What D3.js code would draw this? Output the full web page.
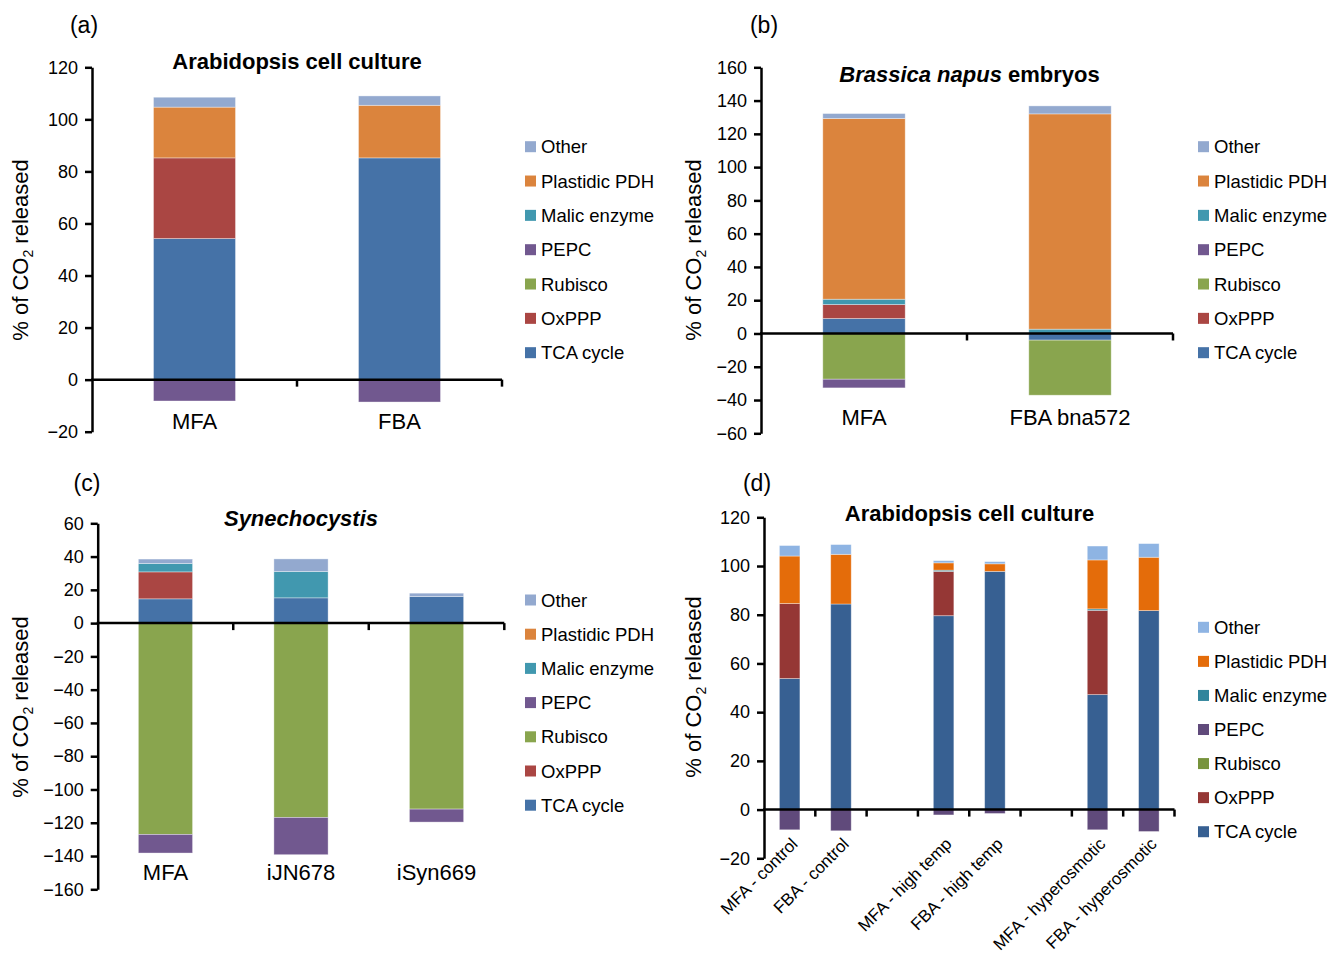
<!DOCTYPE html>
<html><head><meta charset="utf-8">
<script src="https://cdn.jsdelivr.net/npm/d3@7"></script>
<style>
body{margin:0;background:#fff}
text{font-family:"Liberation Sans",Arial,Helvetica,sans-serif;fill:#000}
</style>
</head><body>
<svg id="chart" width="1330" height="953"></svg>
<script>
// ---------- series (stack order, bottom to top) ----------
const seriesNames = ["TCA cycle","OxPPP","Rubisco","PEPC","Malic enzyme","Plastidic PDH","Other"];
const colorsABC = ["#4572A7","#AA4643","#89A54E","#71588F","#4198AF","#DB843D","#93A9CF"];
const colorsD   = ["#376092","#953735","#77933C","#604A7B","#31859C","#E46C0A","#8EB4E3"];

// ---------- panel (a) Arabidopsis cell culture ----------
const catsA = ["MFA","FBA"];
const aTCA = [54.2, 85.2];
const aOxPPP = [31.0, 0];
const aRubisco = [0, 0];
const aPEPC = [-8.2, -8.6];
const aMalic = [0, 0];
const aPDH = [19.5, 20.2];
const aOther = [3.8, 3.6];
const ticksA = [-20,0,20,40,60,80,100,120];

// ---------- panel (b) Brassica napus embryos ----------
const catsB = ["MFA","FBA bna572"];
const bTCA = [9.0, -4.0];
const bOxPPP = [8.4, 0];
const bRubisco = [-27.5, -33.1];
const bPEPC = [-5.2, 0];
const bMalic = [3.2, 2.6];
const bPDH = [108.6, 129.4];
const bOther = [3.0, 4.8];
const ticksB = [-60,-40,-20,0,20,40,60,80,100,120,140,160];

// ---------- panel (c) Synechocystis ----------
const catsC = ["MFA","iJN678","iSyn669"];
const cTCA = [14.6, 15.2, 16.0];
const cOxPPP = [16.2, 0, 0];
const cRubisco = [-127.0, -116.8, -111.8];
const cPEPC = [-11.2, -22.4, -7.8];
const cMalic = [5.0, 15.8, 0];
const cPDH = [0, 0, 0];
const cOther = [2.7, 7.6, 2.0];
const ticksC = [-160,-140,-120,-100,-80,-60,-40,-20,0,20,40,60];

// ---------- panel (d) Arabidopsis cell culture, conditions ----------
const catsD = ["MFA - control","FBA - control","","MFA - high temp","FBA - high temp","","MFA - hyperosmotic","FBA - hyperosmotic"];
const dTCA = [53.8, 84.4, 0, 79.6, 97.8, 0, 47.2, 81.7];
const dOxPPP = [30.8, 0, 0, 18.2, 0, 0, 34.6, 0];
const dRubisco = [0, 0, 0, 0, 0, 0, 0, 0];
const dPEPC = [-8.3, -8.7, 0, -2.2, -1.6, 0, -8.3, -9.0];
const dMalic = [0, 0, 0, 0.5, 0, 0, 0.6, 0];
const dPDH = [19.5, 20.4, 0, 3.0, 3.1, 0, 20.1, 21.9];
const dOther = [4.3, 4.0, 0, 0.9, 0.9, 0, 5.7, 5.6];
const ticksD = [-20,0,20,40,60,80,100,120];

const svg = d3.select("#chart");

function drawPanel(o){
  const g = svg.append("g");
  const n = o.cats.length;
  const rows = o.cats.map((c,i)=>{
    const r = {idx:i};
    seriesNames.forEach((s,k)=>{ r[s] = o.series[k][i]; });
    return r;
  });
  const x = d3.scaleBand().domain(d3.range(n)).range(o.xRange).paddingInner(0.6).paddingOuter(0.3);
  const y = d3.scaleLinear().domain(o.yDomain).range(o.yRange);
  const stacked = d3.stack().keys(seriesNames).offset(d3.stackOffsetDiverging)(rows);

  // bars
  g.selectAll("g.s").data(stacked).join("g").attr("class","s")
    .attr("fill",(d,k)=>o.colors[k])
    .selectAll("rect").data(d=>d.filter(v=>Math.abs(v[1]-v[0])>0)).join("rect")
    .attr("x",d=>x(d.data.idx))
    .attr("width",x.bandwidth())
    .attr("y",d=>y(Math.max(d[0],d[1])))
    .attr("height",d=>Math.abs(y(d[0])-y(d[1])))
    .attr("stroke","rgba(255,255,255,0.45)").attr("stroke-width",0.8);

  // y axis
  const ya = g.append("g").attr("transform",`translate(${o.xRange[0]},0)`)
    .call(d3.axisLeft(y).tickValues(o.yTicks).tickSize(7).tickSizeOuter(0).tickPadding(7).tickFormat(d3.format("d")));
  ya.select(".domain").attr("stroke","#000").attr("stroke-width",2.5);
  ya.selectAll(".tick line").attr("stroke","#000").attr("stroke-width",2.5);
  ya.selectAll(".tick text").attr("font-size",o.tickFont||18).attr("font-family",'"Liberation Sans",Arial,sans-serif');

  // x axis line at zero with boundary ticks
  const y0 = y(0);
  g.append("line").attr("x1",o.xRange[0]-1).attr("x2",o.xRange[1]).attr("y1",y0).attr("y2",y0)
    .attr("stroke","#000").attr("stroke-width",2.5);
  const step = x.step();
  d3.range(1,n+1).forEach(i=>{
    const xx = o.xRange[0] + step*i;
    g.append("line").attr("x1",xx).attr("x2",xx).attr("y1",y0).attr("y2",y0+7)
      .attr("stroke","#000").attr("stroke-width",2.5);
  });

  // category labels
  if(!o.rotated){
    g.selectAll("text.cat").data(o.cats).join("text").attr("class","cat")
      .attr("x",(d,i)=>x(i)+x.bandwidth()/2).attr("y",o.catY)
      .attr("text-anchor","middle").attr("font-size",22).text(d=>d);
  } else {
    g.selectAll("text.cat").data(o.cats).join("text").attr("class","cat")
      .attr("transform",(d,i)=>`translate(${x(i)+x.bandwidth()/2+o.rotDx},${o.catY}) rotate(-45)`)
      .attr("text-anchor","end").attr("font-size",17).text(d=>d);
  }

  // title
  const t = g.append("text").attr("x",o.titleX).attr("y",o.titleY).attr("text-anchor","middle")
    .attr("font-size",22).attr("font-weight","bold");
  o.title.forEach(p=>{ t.append("tspan").attr("font-style",p.italic?"italic":"normal").text(p.text); });

  // y title
  const yt = g.append("text").attr("transform",`translate(${o.ytX},${o.ytY}) rotate(-90)`)
    .attr("text-anchor","middle").attr("font-size",22);
  yt.append("tspan").text("% of CO");
  yt.append("tspan").attr("font-size",14).attr("dy",5).text("2");
  yt.append("tspan").attr("dy",-5).text(" released");

  // panel label
  g.append("text").attr("x",o.plX).attr("y",o.plY).attr("text-anchor","middle").attr("font-size",23).text(o.panel);

  // legend
  const order = d3.range(seriesNames.length).reverse();
  const lg = g.append("g");
  order.forEach((k,j)=>{
    const cy = o.legY + j*o.legStep;
    lg.append("rect").attr("x",o.legX).attr("y",cy-5.5).attr("width",11).attr("height",11).attr("fill",o.colors[k]);
    lg.append("text").attr("x",o.legX+16).attr("y",cy+6.5).attr("font-size",18.5).text(seriesNames[k]);
  });
}

drawPanel({cats:catsA, series:[aTCA,aOxPPP,aRubisco,aPEPC,aMalic,aPDH,aOther], colors:colorsABC,
  yDomain:[-20,120], yRange:[431.7,67.3], yTicks:ticksA, xRange:[92,502], catY:429,
  title:[{text:"Arabidopsis cell culture"}], titleX:297, titleY:69,
  ytX:28, ytY:250, plX:84, plY:33, panel:"(a)", legX:525, legY:146.7, legStep:34.33});

drawPanel({cats:catsB, series:[bTCA,bOxPPP,bRubisco,bPEPC,bMalic,bPDH,bOther], colors:colorsABC,
  yDomain:[-60,160], yRange:[433.3,67.3], yTicks:ticksB, xRange:[761,1173], catY:425,
  title:[{text:"Brassica napus",italic:true},{text:" embryos"}], titleX:969.5, titleY:82,
  ytX:701, ytY:250, plX:764, plY:33, panel:"(b)", legX:1198, legY:146.7, legStep:34.33});

drawPanel({cats:catsC, series:[cTCA,cOxPPP,cRubisco,cPEPC,cMalic,cPDH,cOther], colors:colorsABC,
  yDomain:[-160,60], yRange:[889.3,523.3], yTicks:ticksC, xRange:[97.7,504.3], catY:880,
  title:[{text:"Synechocystis",italic:true}], titleX:301, titleY:526,
  ytX:28, ytY:707, plX:87, plY:491, panel:"(c)", legX:525, legY:600, legStep:34.2});

drawPanel({cats:catsD, series:[dTCA,dOxPPP,dRubisco,dPEPC,dMalic,dPDH,dOther], colors:colorsD,
  yDomain:[-20,120], yRange:[858.3,517.3], yTicks:ticksD, xRange:[764,1174.5], catY:845,
  rotated:true, rotDx:9,
  title:[{text:"Arabidopsis cell culture"}], titleX:969.5, titleY:521,
  ytX:701, ytY:687, plX:757, plY:491, panel:"(d)", legX:1198, legY:627.3, legStep:34.07});
</script>
</body></html>
